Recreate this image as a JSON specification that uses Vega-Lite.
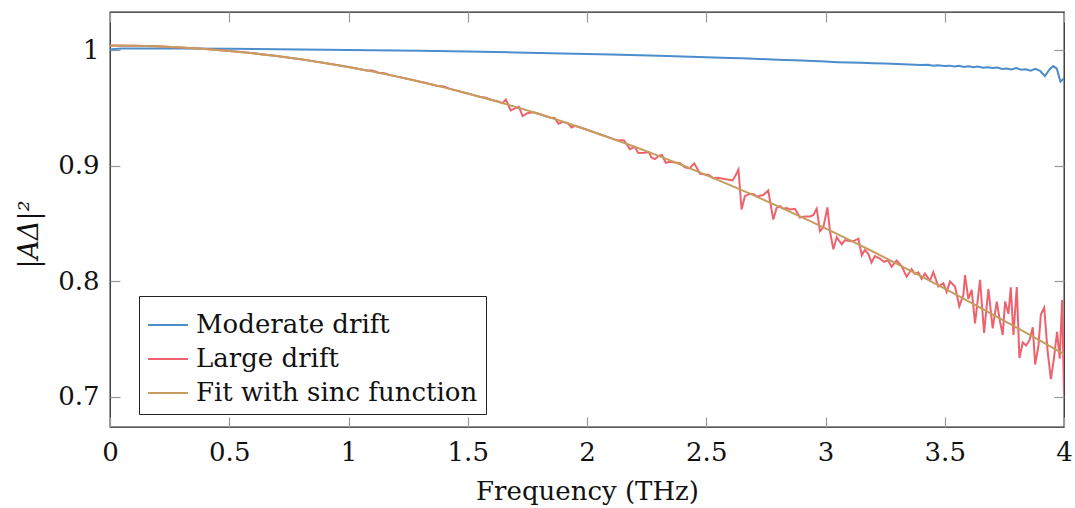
{
  "$schema": "https://vega.github.io/schema/vega-lite/v6.json",
  "autosize": "none",
  "width": 954,
  "height": 415,
  "padding": {"left": 110, "top": 12, "right": 11, "bottom": 81},
  "background": "white",
  "config": {
    "font": "DejaVu Serif",
    "view": {"stroke": "#222222", "strokeWidth": 1.3},
    "axis": {
      "domain": false,
      "grid": false,
      "tickColor": "#999999",
      "tickSize": -10,
      "tickWidth": 1.2,
      "labelFont": "DejaVu Serif",
      "labelFontSize": 26,
      "labelColor": "#111111",
      "titleFont": "DejaVu Serif",
      "titleFontSize": 26,
      "titleFontWeight": "normal",
      "titleColor": "#111111"
    },
    "legend": {
      "labelFont": "DejaVu Serif",
      "labelFontSize": 26,
      "labelColor": "#111111"
    }
  },
  "datasets": {
    "blue": [
      {"f":0,"y":1.0005},{"f":0.02,"y":1.0010},{"f":0.05,"y":1.0014},{"f":0.1,"y":1.0015},{"f":0.3,"y":1.0014},{"f":0.5,"y":1.0012},{"f":0.7,"y":1.0008},{"f":0.9,"y":1.0004},{"f":1.1,"y":1.0000},{"f":1.3,"y":0.9995},{"f":1.5,"y":0.9988},{"f":1.7,"y":0.9980},{"f":1.9,"y":0.9972},{"f":2.1,"y":0.9962},{"f":2.3,"y":0.9951},{"f":2.5,"y":0.9939},{"f":2.6,"y":0.9932},{"f":2.65,"y":0.9930},{"f":2.7,"y":0.9925},{"f":2.8,"y":0.9918},{"f":2.9,"y":0.9910},{"f":2.95,"y":0.9907},{"f":3.0,"y":0.9901},{"f":3.05,"y":0.9896},{"f":3.1,"y":0.9893},{"f":3.15,"y":0.9890},{"f":3.2,"y":0.9886},{"f":3.25,"y":0.9884},{"f":3.3,"y":0.9880},{"f":3.35,"y":0.9876},{"f":3.4,"y":0.9872},{"f":3.43,"y":0.9874},{"f":3.45,"y":0.9866},{"f":3.47,"y":0.9870},{"f":3.5,"y":0.9862},{"f":3.52,"y":0.9866},{"f":3.54,"y":0.9858},{"f":3.56,"y":0.9864},{"f":3.58,"y":0.9855},{"f":3.6,"y":0.9860},{"f":3.62,"y":0.9852},{"f":3.64,"y":0.9858},{"f":3.66,"y":0.9848},{"f":3.68,"y":0.9852},{"f":3.7,"y":0.9845},{"f":3.72,"y":0.9850},{"f":3.74,"y":0.9838},{"f":3.76,"y":0.9842},{"f":3.78,"y":0.9832},{"f":3.8,"y":0.9845},{"f":3.82,"y":0.9830},{"f":3.84,"y":0.9834},{"f":3.86,"y":0.9822},{"f":3.88,"y":0.9838},{"f":3.9,"y":0.9820},{"f":3.92,"y":0.9775},{"f":3.94,"y":0.9835},{"f":3.955,"y":0.9862},{"f":3.97,"y":0.9840},{"f":3.985,"y":0.9728},{"f":4.0,"y":0.9755}
    ],
    "red": [
      {"f":0,"y":1.0040},{"f":0.05,"y":1.0039},{"f":0.1,"y":1.0038},{"f":0.15,"y":1.0036},{"f":0.2,"y":1.0033},{"f":0.25,"y":1.0028},{"f":0.3,"y":1.0023},{"f":0.35,"y":1.0017},{"f":0.4,"y":1.0010},{"f":0.45,"y":1.0002},{"f":0.5,"y":0.9993},{"f":0.55,"y":0.9983},{"f":0.6,"y":0.9973},{"f":0.65,"y":0.9961},{"f":0.7,"y":0.9949},{"f":0.75,"y":0.9935},{"f":0.8,"y":0.9921},{"f":0.85,"y":0.9905},{"f":0.9,"y":0.9889},{"f":0.95,"y":0.9872},{"f":1.0,"y":0.9854},{"f":1.05,"y":0.9835},
      {"f":1.075,"y":0.9825},{"f":1.1,"y":0.9825},{"f":1.125,"y":0.9805},{"f":1.15,"y":0.9800},{"f":1.175,"y":0.9784},{"f":1.2,"y":0.9773},{"f":1.225,"y":0.9762},{"f":1.25,"y":0.9750},{"f":1.275,"y":0.9739},{"f":1.3,"y":0.9727},{"f":1.325,"y":0.9715},{"f":1.35,"y":0.9703},{"f":1.375,"y":0.9690},{"f":1.4,"y":0.9685},{"f":1.425,"y":0.9665},{"f":1.45,"y":0.9652},{"f":1.475,"y":0.9638},{"f":1.5,"y":0.9625},{"f":1.525,"y":0.9611},{"f":1.55,"y":0.9597},{"f":1.575,"y":0.9588},{"f":1.6,"y":0.9569},{"f":1.625,"y":0.9559},{"f":1.645,"y":0.9542},{"f":1.66,"y":0.9573},{"f":1.68,"y":0.9478},{"f":1.7,"y":0.9499},{"f":1.715,"y":0.9510},{"f":1.73,"y":0.9430},{"f":1.75,"y":0.9455},{"f":1.775,"y":0.9463},{"f":1.8,"y":0.9447},{"f":1.825,"y":0.9431},{"f":1.85,"y":0.9414},{"f":1.865,"y":0.9414},{"f":1.88,"y":0.9364},{"f":1.9,"y":0.9381},{"f":1.92,"y":0.9367},{"f":1.935,"y":0.9331},{"f":1.95,"y":0.9346},{"f":1.975,"y":0.9329},{"f":2.0,"y":0.9311},{"f":2.025,"y":0.9293},{"f":2.05,"y":0.9275},{"f":2.075,"y":0.9257},{"f":2.1,"y":0.9239},{"f":2.125,"y":0.9220},{"f":2.155,"y":0.9221},{"f":2.18,"y":0.9144},{"f":2.2,"y":0.9164},{"f":2.215,"y":0.9110},{"f":2.24,"y":0.9113},{"f":2.26,"y":0.9117},{"f":2.27,"y":0.9072},{"f":2.285,"y":0.9057},
      {"f":2.3,"y":0.9085},{"f":2.314,"y":0.9094},{"f":2.33,"y":0.9026},{"f":2.35,"y":0.9035},{"f":2.37,"y":0.9028},{"f":2.39,"y":0.9022},{"f":2.41,"y":0.8986},{"f":2.43,"y":0.8978},{"f":2.45,"y":0.9021},{"f":2.474,"y":0.8931},{"f":2.49,"y":0.8927},{"f":2.51,"y":0.8920},{"f":2.53,"y":0.8893},{"f":2.55,"y":0.8896},{"f":2.57,"y":0.8888},{"f":2.59,"y":0.8881},{"f":2.61,"y":0.8873},{"f":2.621,"y":0.8908},{"f":2.635,"y":0.8968},{"f":2.648,"y":0.8622},{"f":2.662,"y":0.8737},{"f":2.683,"y":0.8758},{"f":2.7,"y":0.8753},{"f":2.711,"y":0.8733},{"f":2.725,"y":0.8740},{"f":2.739,"y":0.8747},{"f":2.76,"y":0.8787},{"f":2.781,"y":0.8535},{"f":2.795,"y":0.8635},{"f":2.81,"y":0.8651},{"f":2.823,"y":0.8628},{"f":2.837,"y":0.8635},{"f":2.851,"y":0.8622},{"f":2.872,"y":0.8628},{"f":2.893,"y":0.8552},{"f":2.907,"y":0.8558},{"f":2.921,"y":0.8561},{"f":2.935,"y":0.8561},{"f":2.949,"y":0.8573},{"f":2.963,"y":0.8629},{"f":2.977,"y":0.8434},{"f":2.991,"y":0.8467},{"f":3.008,"y":0.8640},{"f":3.019,"y":0.8429},{"f":3.033,"y":0.8278},{"f":3.047,"y":0.8381},{"f":3.068,"y":0.8320},{"f":3.082,"y":0.8356},{"f":3.096,"y":0.8352},{"f":3.11,"y":0.8348},{"f":3.124,"y":0.8354},{"f":3.138,"y":0.8369},{"f":3.152,"y":0.8225},{"f":3.165,"y":0.8272},{"f":3.18,"y":0.8236},{"f":3.193,"y":0.8163},{"f":3.207,"y":0.8219},{"f":3.228,"y":0.8197},{"f":3.245,"y":0.8169},{"f":3.262,"y":0.8182},{"f":3.277,"y":0.8126},{"f":3.298,"y":0.8180},{"f":3.319,"y":0.8132},{"f":3.34,"y":0.8040},{"f":3.361,"y":0.8107},{"f":3.375,"y":0.8063},{"f":3.389,"y":0.8078},{"f":3.403,"y":0.8023},{"f":3.417,"y":0.8067},{"f":3.438,"y":0.8005},{"f":3.452,"y":0.8079},{"f":3.473,"y":0.7956},{"f":3.494,"y":0.7983},{"f":3.508,"y":0.7908},{"f":3.522,"y":0.7999},{"f":3.543,"y":0.7956},{"f":3.561,"y":0.7784},{"f":3.578,"y":0.7881},{"f":3.585,"y":0.8054},{"f":3.599,"y":0.7848},{"f":3.613,"y":0.7927},{"f":3.627,"y":0.7637},{"f":3.648,"y":0.8013},{"f":3.665,"y":0.7554},{"f":3.683,"y":0.7934},{"f":3.701,"y":0.7594},{"f":3.718,"y":0.7825},{"f":3.732,"y":0.7649},{"f":3.743,"y":0.7536},{"f":3.753,"y":0.7825},{"f":3.767,"y":0.7719},{"f":3.777,"y":0.7948},{"f":3.788,"y":0.7536},{"f":3.802,"y":0.7950},{"f":3.813,"y":0.7337},{"f":3.827,"y":0.7471},{"f":3.841,"y":0.7445},{"f":3.855,"y":0.7489},{"f":3.869,"y":0.7603},{"f":3.879,"y":0.7281},{"f":3.893,"y":0.7445},{"f":3.903,"y":0.7713},{"f":3.917,"y":0.7772},{"f":3.931,"y":0.7401},{"f":3.945,"y":0.7154},{"f":3.957,"y":0.7320},{"f":3.971,"y":0.7564},{"f":3.982,"y":0.7331},{"f":3.992,"y":0.7839},{"f":4.0,"y":0.7030}
    ],
    "fit": [
      {"f":0,"y":1.0040},{"f":0.1,"y":1.0038},{"f":0.2,"y":1.0033},{"f":0.3,"y":1.0023},{"f":0.4,"y":1.0010},{"f":0.5,"y":0.9993},{"f":0.6,"y":0.9973},{"f":0.7,"y":0.9949},{"f":0.8,"y":0.9921},{"f":0.9,"y":0.9889},{"f":1.0,"y":0.9854},{"f":1.1,"y":0.9815},{"f":1.2,"y":0.9773},{"f":1.3,"y":0.9727},{"f":1.4,"y":0.9678},{"f":1.5,"y":0.9625},{"f":1.6,"y":0.9569},{"f":1.7,"y":0.9509},{"f":1.8,"y":0.9447},{"f":1.9,"y":0.9381},{"f":2.0,"y":0.9311},{"f":2.1,"y":0.9239},{"f":2.2,"y":0.9164},{"f":2.3,"y":0.9085},{"f":2.4,"y":0.9004},{"f":2.5,"y":0.8919},{"f":2.6,"y":0.8832},{"f":2.7,"y":0.8743},{"f":2.8,"y":0.8650},{"f":2.9,"y":0.8555},{"f":3.0,"y":0.8458},{"f":3.1,"y":0.8358},{"f":3.2,"y":0.8256},{"f":3.3,"y":0.8152},{"f":3.4,"y":0.8046},{"f":3.5,"y":0.7937},{"f":3.6,"y":0.7827},{"f":3.7,"y":0.7715},{"f":3.8,"y":0.7602},{"f":3.9,"y":0.7487},{"f":4.0,"y":0.7370}
    ]
  },
  "layer": [
    {
      "data": {"name": "blue"},
      "mark": {"type": "line", "strokeWidth": 2, "clip": true},
      "encoding": {
        "x": {"field": "f", "type": "quantitative",
              "scale": {"domain": [0, 4], "nice": false, "zero": false},
              "axis": {"orient": "bottom", "values": [0, 0.5, 1, 1.5, 2, 2.5, 3, 3.5, 4], "format": "~g", "labelPadding": 22, "title": "Frequency (THz)", "titlePadding": 13, "labelFlush": false}},
        "y": {"field": "y", "type": "quantitative",
              "scale": {"domain": [0.674, 1.033], "nice": false, "zero": false},
              "axis": {"orient": "left", "values": [0.7, 0.8, 0.9, 1], "format": "~g", "labelPadding": 21, "title": "|AΔ|²", "titleFontSize": 27, "titleFontStyle": "italic", "titleY": 222, "titlePadding": 14, "labelFlush": false}},
        "color": {"datum": "Moderate drift", "type": "nominal",
                  "scale": {"domain": ["Moderate drift", "Large drift", "Fit with sinc function"], "range": ["#4C8DCB", "#EE626D", "#C59D5F"]},
                  "legend": {"orient": "none", "legendX": 29, "legendY": 284, "title": null, "symbolType": "stroke", "symbolSize": 1600, "symbolStrokeWidth": 2, "labelOffset": 7, "rowPadding": -3, "padding": 8, "strokeColor": "#222222", "fillColor": "white", "labelLimit": 400}}
      }
    },
    {
      "data": {"name": "red"},
      "mark": {"type": "line", "strokeWidth": 2, "clip": true},
      "encoding": {
        "x": {"field": "f", "type": "quantitative",
              "axis": {"orient": "top", "values": [0, 0.5, 1, 1.5, 2, 2.5, 3, 3.5, 4], "labels": false, "title": null}},
        "y": {"field": "y", "type": "quantitative",
              "axis": {"orient": "right", "values": [0.7, 0.8, 0.9, 1], "labels": false, "title": null}},
        "color": {"datum": "Large drift", "type": "nominal"}
      }
    },
    {
      "data": {"name": "fit"},
      "mark": {"type": "line", "strokeWidth": 2, "clip": true},
      "encoding": {
        "x": {"field": "f", "type": "quantitative", "axis": null},
        "y": {"field": "y", "type": "quantitative", "axis": null},
        "color": {"datum": "Fit with sinc function", "type": "nominal"}
      }
    }
  ],
  "resolve": {"axis": {"x": "independent", "y": "independent"}}
}
